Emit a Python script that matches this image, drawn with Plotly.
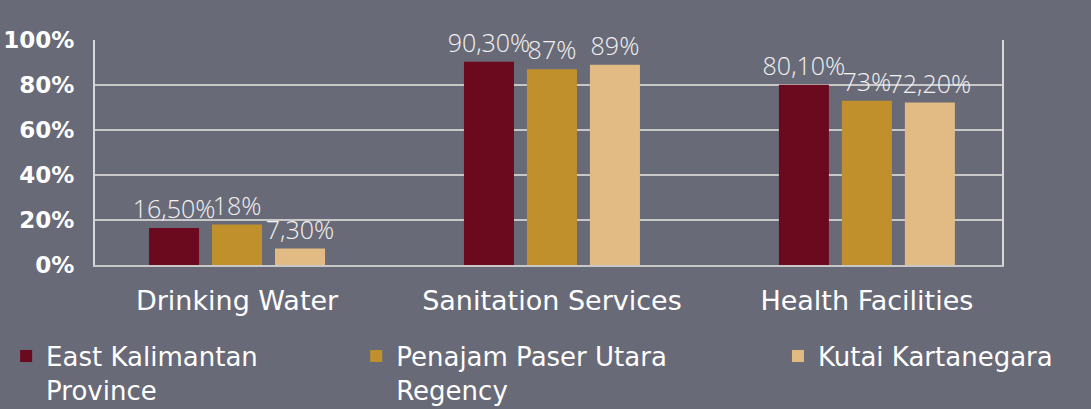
import plotly.graph_objects as go

categories = ["Drinking Water", "Sanitation Services", "Health Facilities"]
series_names = ["East Kalimantan<br>Province", "Penajam Paser Utara<br>Regency", "Kutai Kartanegara"]
east_kalimantan = [16.5, 90.3, 80.1]
penajam = [18, 87, 73]
kutai = [7.3, 89, 72.2]
east_labels = ["16,50%", "90,30%", "80,10%"]
penajam_labels = ["18%", "87%", "73%"]
kutai_labels = ["7,30%", "89%", "72,20%"]
y_tickvals = [0, 20, 40, 60, 80, 100]
y_ticktext = ["0%", "20%", "40%", "60%", "80%", "100%"]

colors = ["#6B0A1F", "#C0902C", "#E2BB84"]
bg = "#696A78"
label_font = dict(family="Open Sans", size=25, color="#F2F2F2", weight=300)

x_idx = list(range(len(categories)))
fig = go.Figure()
all_vals = [east_kalimantan, penajam, kutai]
all_labels = [east_labels, penajam_labels, kutai_labels]
legends = ["legend", "legend2", "legend3"]
for i in range(3):
    fig.add_trace(go.Bar(
        x=x_idx, y=all_vals[i], name=series_names[i],
        marker=dict(color=colors[i], line=dict(width=0)),
        text=all_labels[i], textposition="outside", textfont=label_font,
        constraintext="none", cliponaxis=False, legend=legends[i],
        showlegend=True,
    ))

legend_font = dict(family="DejaVu Sans", size=26, color="#FFFFFF")
leg_common = dict(orientation="v", font=legend_font, bgcolor="rgba(0,0,0,0)",
                  valign="top", yanchor="top", xanchor="left", y=-0.30,
                  visible=True, itemclick=False, itemdoubleclick=False)

fig.update_layout(
    width=1091, height=409,
    showlegend=True,
    margin=dict(l=95, r=89, t=40, b=144, autoexpand=False),
    paper_bgcolor=bg, plot_bgcolor=bg,
    barmode="group", bargap=0.4, bargroupgap=0.206,
    legend=dict(x=-0.098, **leg_common),
    legend2=dict(x=0.288, **leg_common),
    legend3=dict(x=0.753, **leg_common),
    xaxis=dict(
        tickmode="array", tickvals=x_idx, ticktext=categories,
        range=[-0.451, 2.429], showgrid=False,
        showline=True, linecolor="#C8C8C8", linewidth=2,
        tickfont=dict(family="DejaVu Sans", size=27, color="#FFFFFF"),
        ticks="", ticklabelstandoff=11,
    ),
    yaxis=dict(
        range=[0, 100], tickvals=y_tickvals, ticktext=y_ticktext,
        showgrid=True, gridcolor="#C8C8C8", gridwidth=2,
        showline=True, mirror=True, linecolor="#D8D8D8", linewidth=2,
        zeroline=False,
        tickfont=dict(family="DejaVu Sans", size=23, color="#FFFFFF", weight=700),
        ticks="", ticklabelstandoff=14,
    ),
)

fig.write_html(
    "out.html",
    config={"displayModeBar": False},
    post_script="document.body.style.margin='0';document.body.style.background='" + bg + "';",
)
